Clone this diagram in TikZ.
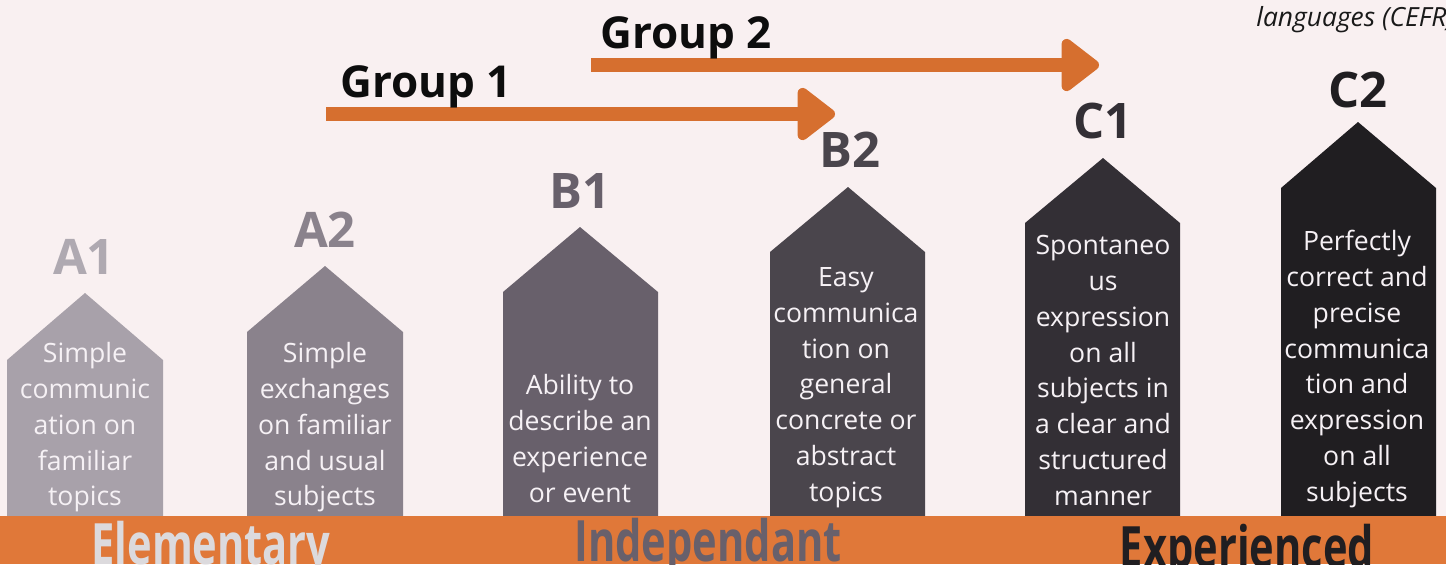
\documentclass[tikz,border=0pt]{standalone}
\usepackage{fontspec}
\setmainfont{Open Sans}
\usepackage{tikz}
\usetikzlibrary{arrows.meta}

\definecolor{paper}{HTML}{F9F0F1}
\definecolor{band}{HTML}{E07839}
\definecolor{grouporange}{HTML}{D66F2F}
\definecolor{houseAone}{HTML}{A8A1AA}
\definecolor{houseAtwo}{HTML}{8A828C}
\definecolor{houseBone}{HTML}{68606B}
\definecolor{houseBtwo}{HTML}{4A454C}
\definecolor{houseCone}{HTML}{332F35}
\definecolor{houseCtwo}{HTML}{201E21}
\definecolor{deschue}{HTML}{F6F1F5}

\begin{document}
\begin{tikzpicture}[x=0.5pt,y=-0.5pt]
	\tikzset{
		desc/.style={anchor=north,align=center,inner sep=0pt,text=deschue,font=\fontsize{13.3}{17.9}\selectfont},
		levelname/.style={anchor=base,inner sep=0pt,font=\bfseries\fontsize{24.5}{24.5}\selectfont},
		grouplabel/.style={anchor=base west,inner sep=0pt,text=black!95,font=\bfseries\fontsize{22}{22}\selectfont},
		groupline/.style={draw=grouporange,line width=7.25pt,-{Triangle[length=20.5pt,width=30pt,round]}},
		bandlabel/.style={anchor=base,inner sep=0pt,font=\bfseries\fontsize{28.5}{28.5}\selectfont}
	}
	\useasboundingbox (0,0) rectangle (1446,564);
	\clip (0,0) rectangle (1446,564);
	\fill[paper] (0,0) rectangle (1446,564);

	%% level houses
	\fill[houseAone] (7,516) -- (7,360) -- (85,293) -- (163,360) -- (163,516) -- cycle;
	\fill[houseAtwo] (247,519) -- (247,332) -- (325,266) -- (403,332) -- (403,519) -- cycle;
	\fill[houseBone] (503,516) -- (503,292) -- (580,227) -- (658,292) -- (658,516) -- cycle;
	\fill[houseBtwo] (770,516) -- (770,252) -- (848,187) -- (925,252) -- (925,516) -- cycle;
	\fill[houseCone] (1025,516) -- (1025,223) -- (1103,158) -- (1180,223) -- (1180,516) -- cycle;
	\fill[houseCtwo] (1281,516) -- (1281,188) -- (1358,122) -- (1436,188) -- (1436,516) -- cycle;

	%% level names
	\node[levelname,text=houseAone!92!white] (a1) at (84,274) {A1};
	\node[levelname,text=houseAtwo] (a2) at (325,247) {A2};
	\node[levelname,text=houseBone] (b1) at (580,208) {B1};
	\node[levelname,text=houseBtwo] (b2) at (850,167) {B2};
	\node[levelname,text=houseCone] (c1) at (1103,138) {C1};
	\node[levelname,text=houseCtwo] (c2) at (1358,107) {C2};

	%% descriptions
	\node[desc] (a1d) at (85,342) {Simple\\communic\\ation on\\familiar\\topics};
	\node[desc] (a2d) at (325,342) {Simple\\exchanges\\on familiar\\and usual\\subjects};
	\node[desc] (b1d) at (580,374) {Ability to\\describe an\\experience\\or event};
	\node[desc] (b2d) at (846,267) {Easy\\communica\\tion on\\general\\concrete or\\abstract\\topics};
	\node[desc] (c1d) at (1103,235) {Spontaneo\\us\\expression\\on all\\subjects in\\a clear and\\structured\\manner};
	\node[desc] (c2d) at (1357,230) {Perfectly\\correct and\\precise\\communica\\tion and\\expression\\on all\\subjects};

	%% group arrows
	\coordinate (g1from) at (326,114);
	\coordinate (g1to) at (835,114);
	\coordinate (g2from) at (591,65);
	\coordinate (g2to) at (1099,65);
	\draw[groupline] (g1from) -- (g1to);
	\draw[groupline] (g2from) -- (g2to);
	\node[grouplabel] (g1) at (340,97) {Group 1};
	\node[grouplabel] (g2) at (600,48) {Group 2};

	%% bottom band
	\fill[band] (0,516) rectangle (1446,564);
	\node[bandlabel,text=houseAone!40!white] (elem) at (211,564) {\scalebox{0.73}[1]{Elementary}};
	\node[bandlabel,text=houseBone] (indep) at (708,561) {\scalebox{0.73}[1]{Independant}};
	\node[bandlabel,text=houseCtwo] (expe) at (1247,567) {\scalebox{0.73}[1]{Experienced}};

	\node[anchor=base west,inner sep=0pt,text=black!90,font=\itshape\fontsize{13.2}{13.2}\selectfont] (cefr) at (1256,26) {languages (CEFR)};
\end{tikzpicture}
\end{document}
